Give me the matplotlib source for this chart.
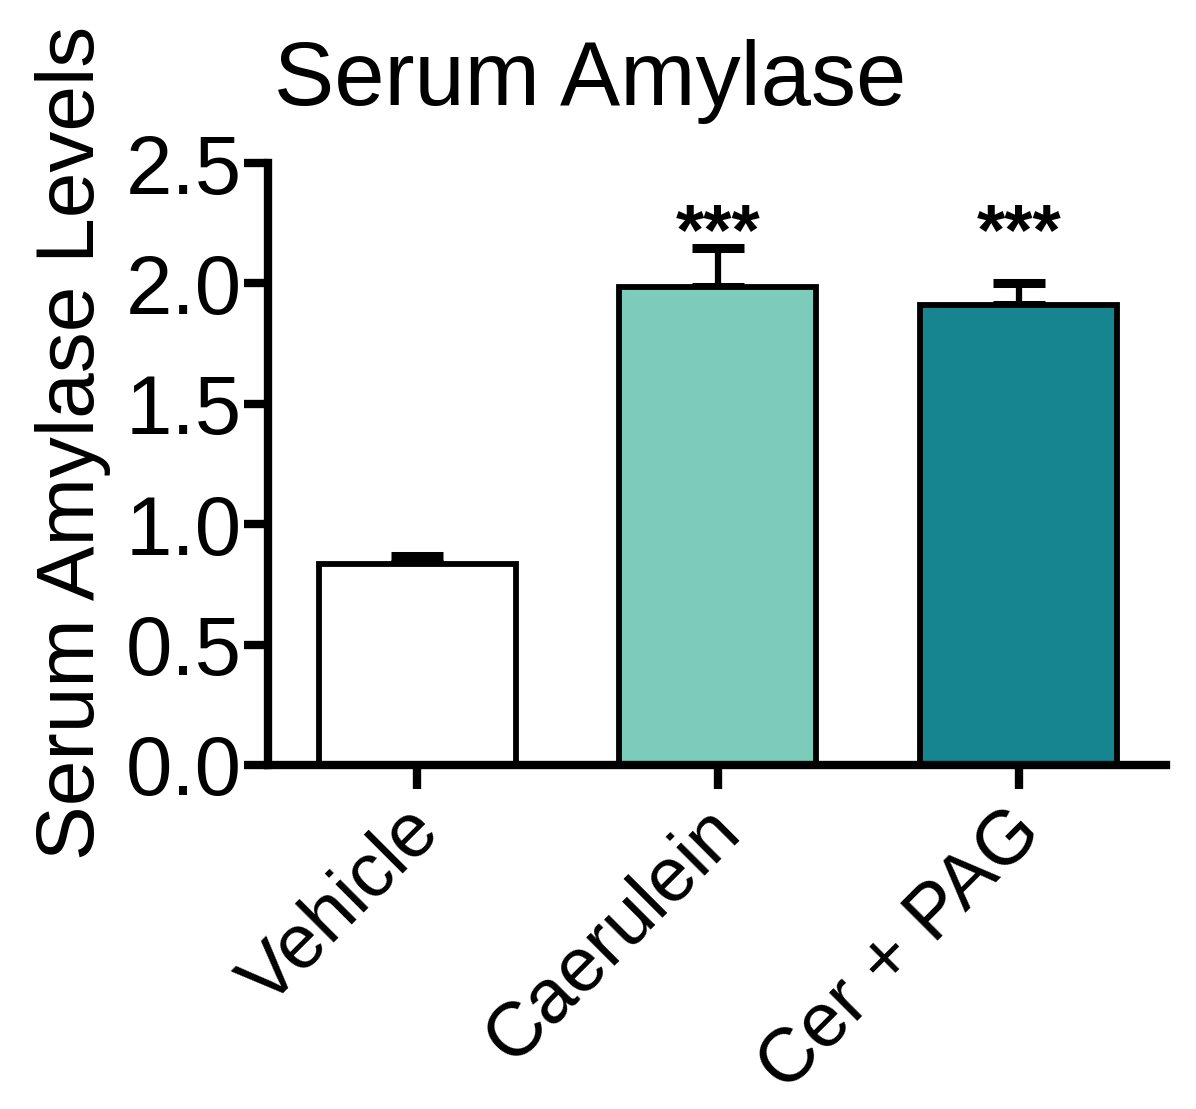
import matplotlib
matplotlib.use("Agg")
import matplotlib.pyplot as plt
from matplotlib.transforms import ScaledTranslation

plt.rcParams['font.family'] = ['Liberation Sans', 'DejaVu Sans']

# Données
groupes = ['Vehicle', 'Caerulein', 'Cer + PAG']
moyennes = [0.833, 1.985, 1.910]
erreurs = [0.035, 0.162, 0.092]
couleurs = ['#FFFFFF', '#7DCBBA', '#16858F']
etoiles = ['', '***', '***']

fig = plt.figure(figsize=(11.96, 11.09), dpi=100)
ax = fig.add_axes([0.2241, 0.3102, 0.7509, 0.5428])

x = range(len(groupes))
ax.bar(x, moyennes, width=0.655, color=couleurs, edgecolor='black', linewidth=4.2, zorder=2)
ax.errorbar(x, moyennes, yerr=[[0] * len(erreurs), erreurs], fmt='none', ecolor='black',
            elinewidth=4.5, capsize=19, capthick=6.5, zorder=1)

# Etoiles de significativité
for i, s in enumerate(etoiles):
    if s:
        ax.text(i, 2.20, s, ha='center', va='center', fontsize=52, fontweight='bold')

ax.set_xlim(-0.496, 2.49)
ax.set_ylim(0, 2.5)
ax.set_yticks([0, 0.5, 1.0, 1.5, 2.0, 2.5])
ax.set_yticklabels(['0.0', '0.5', '1.0', '1.5', '2.0', '2.5'], fontsize=60)
ax.set_xticks(list(x))
ax.set_xticklabels(groupes, fontsize=55, rotation=45, ha='right', va='top', rotation_mode='anchor')

for side in ['top', 'right']:
    ax.spines[side].set_visible(False)
for side in ['left', 'bottom']:
    ax.spines[side].set_linewidth(6)
ax.tick_params(axis='both', width=6, length=17, direction='out')
ax.tick_params(axis='y', pad=2)
ax.tick_params(axis='x', pad=5)

# Décalage des étiquettes inclinées
for lab in ax.get_xticklabels():
    lab.set_transform(lab.get_transform() + ScaledTranslation(-10 / 72, 0, fig.dpi_scale_trans))

fig.text(0.493, 1 - 105 / 1109, 'Serum Amylase', fontsize=65, ha='center', va='baseline')
fig.text(0.061, 0.601, 'Serum Amylase Levels', fontsize=59, rotation=90, ha='center', va='center')

fig.savefig('out.png', dpi=100)
